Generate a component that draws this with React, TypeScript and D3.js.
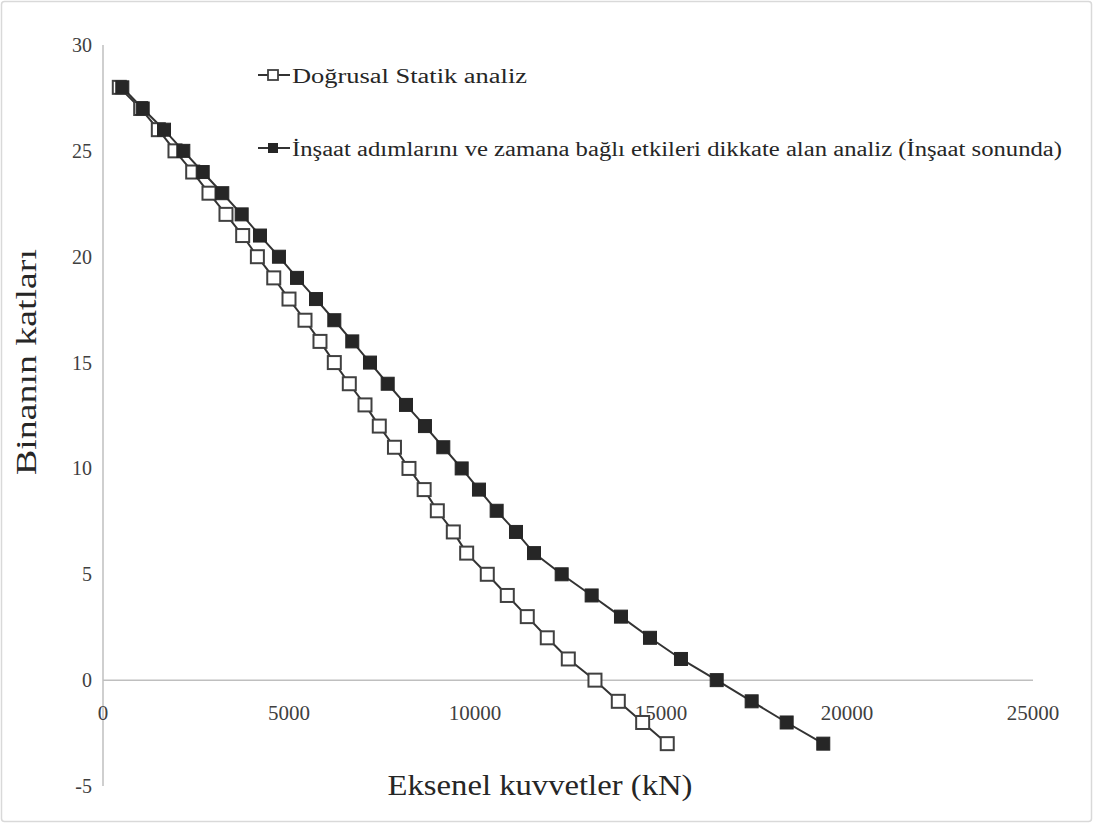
import React from "react";
import * as d3 from "d3";

const floors = [28, 27, 26, 25, 24, 23, 22, 21, 20, 19, 18, 17, 16, 15, 14, 13, 12, 11, 10, 9, 8, 7, 6, 5, 4, 3, 2, 1, 0, -1, -2, -3];
const linearStatic = [438, 1013, 1487, 1935, 2411, 2849, 3306, 3755, 4150, 4590, 5000, 5430, 5833, 6218, 6621, 7043, 7427, 7835, 8225, 8633, 8987, 9417, 9776, 10330, 10868, 11405, 11943, 12508, 13225, 13852, 14507, 15168];
const stagedAnalysis = [519, 1067, 1640, 2159, 2680, 3207, 3728, 4220, 4730, 5215, 5726, 6218, 6701, 7177, 7653, 8145, 8655, 9148, 9642, 10107, 10582, 11102, 11586, 12330, 13136, 13924, 14704, 15537, 16497, 17437, 18378, 19362];
const xTicks = [0, 5000, 10000, 15000, 20000, 25000];
const yTicks = [-5, 0, 5, 10, 15, 20, 25, 30];
const seriesNames = [
  "Doğrusal Statik analiz",
  "İnşaat adımlarını ve zamana bağlı etkileri dikkate alan analiz (İnşaat sonunda)",
];
const xTitle = "Eksenel kuvvetler (kN)";
const yTitle = "Binanın katları";

const W = 1093;
const H = 823;
const FONT = "'Liberation Serif', 'Times New Roman', serif";

export default function App() {
  const x = d3.scaleLinear().domain([0, 25000]).range([103, 1033]);
  const y = d3.scaleLinear().domain([-5, 30]).range([786, 45]);
  const line = d3
    .line<[number, number]>()
    .x((d) => x(d[0]))
    .y((d) => y(d[1]));
  const s1: [number, number][] = linearStatic.map((v, i) => [v, floors[i]]);
  const s2: [number, number][] = stagedAnalysis.map((v, i) => [v, floors[i]]);
  const ms = 13;
  const lineColor = "#333333";

  return (
    <svg
      width={W}
      height={H}
      style={{ position: "absolute", left: 0, top: 0, background: "#fff" }}
      fontFamily={FONT}
    >
      <rect x={1.5} y={1.5} width={W - 3} height={H - 3} fill="#fff" stroke="#d9d9d9" strokeWidth={1.5} rx={3} />
      {/* axes */}
      <line x1={x(0)} x2={x(0)} y1={y(30)} y2={y(-5)} stroke="#bfbfbf" strokeWidth={1.5} />
      <line x1={x(0)} x2={x(25000)} y1={y(0)} y2={y(0)} stroke="#bfbfbf" strokeWidth={1.5} />
      {yTicks.map((t) => (
        <text key={"y" + t} x={92} y={y(t)} dy="0.35em" textAnchor="end" fontSize={20} fill="#404040">
          {t}
        </text>
      ))}
      {xTicks.map((t) => (
        <text key={"x" + t} x={x(t)} y={720} textAnchor="middle" fontSize={21} fill="#404040">
          {t}
        </text>
      ))}
      {/* series */}
      <path d={line(s1) || ""} fill="none" stroke={lineColor} strokeWidth={2} />
      <path d={line(s2) || ""} fill="none" stroke={lineColor} strokeWidth={2} />
      {s1.map((d, i) => (
        <rect key={"a" + i} x={x(d[0]) - ms / 2} y={y(d[1]) - ms / 2} width={ms} height={ms} fill="#fff" stroke="#404040" strokeWidth={2} />
      ))}
      {s2.map((d, i) => (
        <rect key={"b" + i} x={x(d[0]) - ms / 2} y={y(d[1]) - ms / 2} width={ms} height={ms} fill="#262626" stroke="#262626" strokeWidth={1} />
      ))}
      {/* legend */}
      <g>
        <line x1={258} x2={290} y1={75} y2={75} stroke={lineColor} strokeWidth={2} />
        <rect x={268} y={70} width={10} height={10} fill="#fff" stroke="#404040" strokeWidth={1.8} />
        <text x={292} y={83} fontSize={20} fill="#262626" textLength={235} lengthAdjust="spacingAndGlyphs">
          {seriesNames[0]}
        </text>
        <line x1={258} x2={290} y1={148} y2={148} stroke={lineColor} strokeWidth={2} />
        <rect x={268} y={143} width={10} height={10} fill="#262626" />
        <text x={292} y={156} fontSize={20} fill="#262626" textLength={770} lengthAdjust="spacingAndGlyphs">
          {seriesNames[1]}
        </text>
      </g>
      {/* titles */}
      <text x={540} y={795} textAnchor="middle" fontSize={29} fill="#262626" textLength={305} lengthAdjust="spacingAndGlyphs">
        {xTitle}
      </text>
      <text
        transform={`translate(36, 362) rotate(-90)`}
        textAnchor="middle"
        fontSize={29}
        fill="#262626"
        textLength={226}
        lengthAdjust="spacingAndGlyphs"
      >
        {yTitle}
      </text>
    </svg>
  );
}
